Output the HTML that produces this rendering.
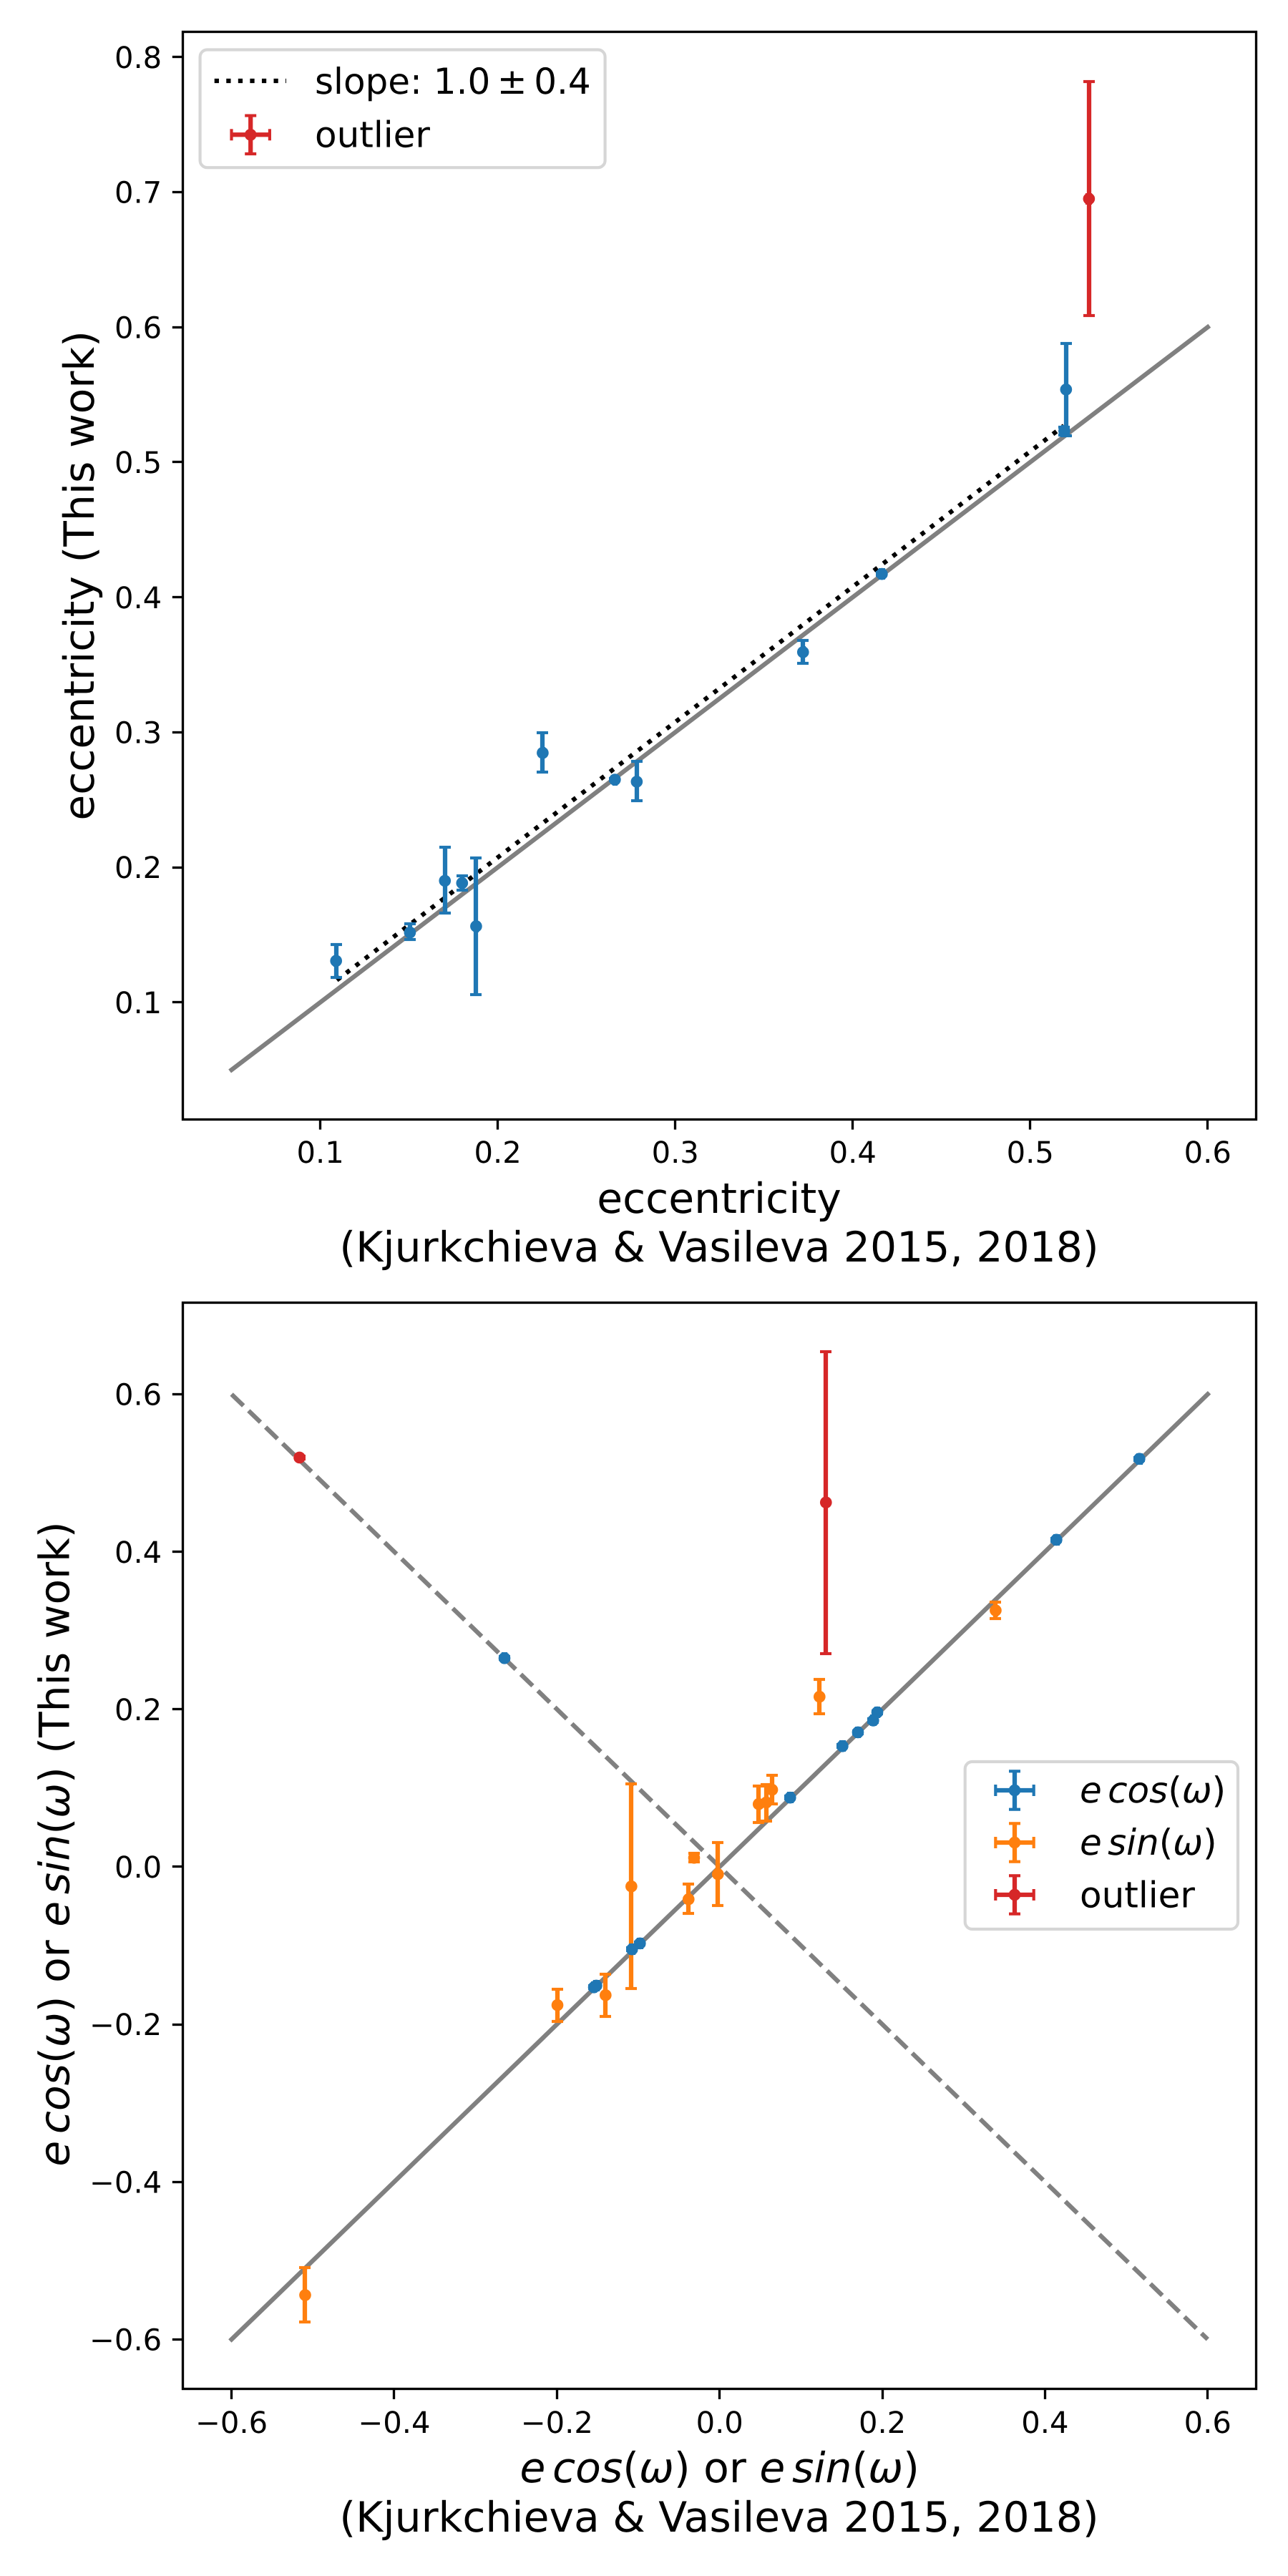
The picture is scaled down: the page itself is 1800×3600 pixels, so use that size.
<!DOCTYPE html>
<html lang="en">
<head>
<meta charset="utf-8">
<title>Eccentricity comparison</title>
<style>
html,body{margin:0;padding:0;background:#fff;}
svg{display:block;text-rendering:geometricPrecision;font-family:"DejaVu Sans","Liberation Sans",sans-serif;fill:#000;}
.tick{font-size:41.67px;}
.lab{font-size:58.33px;}
.leg{font-size:50px;}
.it{font-style:italic;}
</style>
</head>
<body>
<svg id="fig" xmlns="http://www.w3.org/2000/svg" width="1800" height="3600" viewBox="0 0 1800 3600">
  <rect x="0" y="0" width="1800" height="3600" fill="#ffffff"/>
  <g id="top"></g>
  <g id="bottom"></g>

  <text class="lab" x="1005" y="1695" text-anchor="middle">eccentricity</text>
  <text class="lab" x="1005" y="1763" text-anchor="middle">(Kjurkchieva &amp; Vasileva 2015, 2018)</text>
  <text class="lab" text-anchor="middle" transform="translate(131,804.4) rotate(-90)">eccentricity (This work)</text>

  <text class="lab" x="1005.7" y="3469" text-anchor="middle"><tspan class="it">e</tspan><tspan class="it" dx="9.7">cos</tspan>(<tspan class="it">ω</tspan>) or <tspan class="it">e</tspan><tspan class="it" dx="9.7">sin</tspan>(<tspan class="it">ω</tspan>)</text>
  <text class="lab" x="1005" y="3538" text-anchor="middle">(Kjurkchieva &amp; Vasileva 2015, 2018)</text>
  <text class="lab" text-anchor="middle" transform="translate(96.4,2577) rotate(-90)"><tspan class="it">e</tspan><tspan class="it" dx="9.7">cos</tspan>(<tspan class="it">ω</tspan>) or <tspan class="it">e</tspan><tspan class="it" dx="9.7">sin</tspan>(<tspan class="it">ω</tspan>) (This work)</text>
</svg>

<script>
// ---- top panel data ----
const topXTicks = [0.1, 0.2, 0.3, 0.4, 0.5, 0.6];
const topXTickLabels = ['0.1', '0.2', '0.3', '0.4', '0.5', '0.6'];
const topYTicks = [0.1, 0.2, 0.3, 0.4, 0.5, 0.6, 0.7, 0.8];
const topYTickLabels = ['0.1', '0.2', '0.3', '0.4', '0.5', '0.6', '0.7', '0.8'];
const oneToOneTop = [0.05, 0.6];
const fitX = [0.1093, 0.519];
const fitY = [0.1164, 0.527];
const eccLit = [0.1089, 0.1505, 0.1702, 0.1799, 0.1878, 0.2253, 0.2660, 0.2783, 0.3720, 0.4164, 0.5192, 0.5202];
const eccThis = [0.1307, 0.1517, 0.1900, 0.1883, 0.1563, 0.2847, 0.2649, 0.2634, 0.3593, 0.4172, 0.5231, 0.5538];
const eccErrLow = [0.0122, 0.0054, 0.0237, 0.0055, 0.0508, 0.0143, 0.0010, 0.0143, 0.0083, 0.0010, 0.0030, 0.0340];
const eccErrHigh = [0.0122, 0.0063, 0.0250, 0.0054, 0.0508, 0.0152, 0.0010, 0.0149, 0.0087, 0.0010, 0.0030, 0.0340];
const eccErrLit = [0.0005, 0.0005, 0.0005, 0.0005, 0.0005, 0.0005, 0.0005, 0.0005, 0.0005, 0.0010, 0.0010, 0.0005];
const eccOutlierLit = [0.5331];
const eccOutlierThis = [0.6950];
const eccOutlierErrLow = [0.0864];
const eccOutlierErrHigh = [0.0870];
const eccOutlierErrLit = [0.0010];

// ---- bottom panel data ----
const botXTicks = [-0.6, -0.4, -0.2, 0.0, 0.2, 0.4, 0.6];
const botXTickLabels = ['−0.6', '−0.4', '−0.2', '0.0', '0.2', '0.4', '0.6'];
const botYTicks = [-0.6, -0.4, -0.2, 0.0, 0.2, 0.4, 0.6];
const botYTickLabels = ['−0.6', '−0.4', '−0.2', '0.0', '0.2', '0.4', '0.6'];
const oneToOneBot = [-0.6, 0.6];
const cosLit = [0.5160, 0.4140, 0.1938, 0.1888, 0.1700, 0.1510, 0.0867, -0.0980, -0.1077, -0.1516, -0.1545, -0.2645];
const cosThis = [0.5180, 0.4152, 0.1961, 0.1857, 0.1707, 0.1532, 0.0878, -0.0973, -0.1048, -0.1509, -0.1530, 0.2649];
const cosErr = [0.0020, 0.0020, 0.0020, 0.0020, 0.0020, 0.0020, 0.0020, 0.0020, 0.0020, 0.0020, 0.0020, 0.0020];
const sinLit = [0.3393, 0.1228, 0.0645, 0.0574, 0.0480, -0.0021, -0.0314, -0.0382, -0.1085, -0.1402, -0.1994, -0.5095];
const sinThis = [0.3255, 0.2159, 0.0978, 0.0817, 0.0796, -0.0094, 0.0114, -0.0412, -0.0249, -0.1630, -0.1756, -0.5438];
const sinErrLow = [0.0104, 0.0216, 0.0177, 0.0236, 0.0234, 0.0397, 0.0055, 0.0182, 0.1297, 0.0267, 0.0207, 0.0339];
const sinErrHigh = [0.0105, 0.0223, 0.0184, 0.0230, 0.0232, 0.0405, 0.0055, 0.0196, 0.1302, 0.0266, 0.0203, 0.0350];
const sinErrLit = [0.0010, 0.0005, 0.0005, 0.0005, 0.0005, 0.0005, 0.0020, 0.0005, 0.0005, 0.0005, 0.0005, 0.0005];
const outlierLit = [-0.5165, 0.1307];
const outlierThis = [0.5196, 0.4626];
const outlierErrLow = [0.0020, 0.1919];
const outlierErrHigh = [0.0020, 0.1914];

// ---- axes geometry ----
const AX_LEFT = 255.4, AX_RIGHT = 1756;
const TOP_T = 44.8, TOP_B = 1564;
const BOT_T = 1820, BOT_B = 3338.3;
const topXLim = [0.0225, 0.6275], topYLim = [0.0135, 0.8185];
const botXLim = [-0.66, 0.66], botYLim = [-0.6627, 0.7167];

const NS = 'http://www.w3.org/2000/svg';
const BLUE = '#1f77b4', ORANGE = '#ff7f0e', RED = '#d62728', GRAY = '#808080';

function scale(lim, a, b) {
  return function (v) { return a + (v - lim[0]) / (lim[1] - lim[0]) * (b - a); };
}
const xTop = scale(topXLim, AX_LEFT, AX_RIGHT);
const yTop = scale(topYLim, TOP_B, TOP_T);
const xBot = scale(botXLim, AX_LEFT, AX_RIGHT);
const yBot = scale(botYLim, BOT_B, BOT_T);
function snapOdd(v) { return Math.floor(v) + 0.5; }

function line(parent, name, x1, y1, x2, y2, color, width, dash, cap) {
  const el = document.createElementNS(NS, 'line');
  
  
  el.setAttribute('x1', x1);
  el.setAttribute('y1', y1);
  el.setAttribute('x2', x2);
  el.setAttribute('y2', y2);
  el.setAttribute('stroke', color);
  el.setAttribute('stroke-width', width);
  if (dash) el.setAttribute('stroke-dasharray', dash);
  if (cap) el.setAttribute('stroke-linecap', cap);
  parent.appendChild(el);
  return el;
}
function label(parent, name, x, y, anchor, str) {
  const el = document.createElementNS(NS, 'text');
  
  
  el.setAttribute('class', 'tick');
  el.setAttribute('x', x);
  el.setAttribute('y', y);
  el.setAttribute('text-anchor', anchor);
  el.textContent = str;
  parent.appendChild(el);
}
function group(parent, name) {
  const g = document.createElementNS(NS, 'g');
  
  
  parent.appendChild(g);
  return g;
}
function frame(parent, prefix, T, B) {
  const rect = document.createElementNS(NS, 'rect');
  const l = snapOdd(AX_LEFT), r = snapOdd(AX_RIGHT - 0.5), t = snapOdd(T), b = snapOdd(B);
  
  
  rect.setAttribute('x', l);
  rect.setAttribute('y', t);
  rect.setAttribute('width', r - l);
  rect.setAttribute('height', b - t);
  rect.setAttribute('fill', 'none');
  rect.setAttribute('stroke', '#000');
  rect.setAttribute('stroke-width', 3.33);
  parent.appendChild(rect);
}
function axes(parent, prefix, B, xs, ys, xt, xl, yt, yl, baseX) {
  xt.forEach(function (v, i) {
    const px = snapOdd(xs(v));
    line(parent, prefix + '-x-tick', px, B, px, B + 14.6, '#000', 3.33);
    label(parent, prefix + '-x-tick-label', xs(v), baseX, 'middle', xl[i]);
  });
  yt.forEach(function (v, i) {
    const py = snapOdd(ys(v));
    line(parent, prefix + '-y-tick', AX_LEFT, py, AX_LEFT - 14.6, py, '#000', 3.33);
    label(parent, prefix + '-y-tick-label', AX_LEFT - 29.2, ys(v) + 15.2, 'end', yl[i]);
  });
}
function errPoint(parent, name, xs, ys, x, y, xe, lo, hi, color) {
  const g = group(parent, name);
  const px = xs(x), py = ys(y);
  const barX = Math.round(px), barY = Math.round(py);
  const yA = Math.round(ys(y - lo)), yB = Math.round(ys(y + hi));
  const xA = Math.round(xs(x - xe)), xB = Math.round(xs(x + xe));
  line(g, name + '-y-error', barX, yA, barX, yB, color, 6.25);
  line(g, name + '-x-error', xA, barY, xB, barY, color, 6.25);
  line(g, name + '-y-cap-low', barX - 8, yA, barX + 8, yA, color, 4.17);
  line(g, name + '-y-cap-high', barX - 8, yB, barX + 8, yB, color, 4.17);
  line(g, name + '-x-cap-low', xA, barY - 8, xA, barY + 8, color, 4.17);
  line(g, name + '-x-cap-high', xB, barY - 8, xB, barY + 8, color, 4.17);
  const c = document.createElementNS(NS, 'circle');
  
  
  c.setAttribute('cx', px);
  c.setAttribute('cy', py);
  c.setAttribute('r', 8.33);
  c.setAttribute('fill', color);
  g.appendChild(c);
}
function legendBox(parent, name, x, y, w, h) {
  const r = document.createElementNS(NS, 'rect');
  
  
  r.setAttribute('x', x);
  r.setAttribute('y', y);
  r.setAttribute('width', w);
  r.setAttribute('height', h);
  r.setAttribute('rx', 10);
  r.setAttribute('ry', 10);
  r.setAttribute('fill', '#ffffff');
  r.setAttribute('fill-opacity', 0.8);
  r.setAttribute('stroke', '#d6d6d6');
  r.setAttribute('stroke-width', 4.17);
  parent.appendChild(r);
}
function legendKey(parent, name, cx, cy, color) {
  const g = group(parent, name);
  const a = 26.7;
  line(g, name + '-v', cx, cy - a, cx, cy + a, color, 6.25);
  line(g, name + '-h', cx - a, cy, cx + a, cy, color, 6.25);
  line(g, name + '-cap-top', cx - 8, cy - a, cx + 8, cy - a, color, 4.17);
  line(g, name + '-cap-bottom', cx - 8, cy + a, cx + 8, cy + a, color, 4.17);
  line(g, name + '-cap-left', cx - a, cy - 8, cx - a, cy + 8, color, 4.17);
  line(g, name + '-cap-right', cx + a, cy - 8, cx + a, cy + 8, color, 4.17);
  const c = document.createElementNS(NS, 'circle');
  
  
  c.setAttribute('cx', cx);
  c.setAttribute('cy', cy);
  c.setAttribute('r', 8.33);
  c.setAttribute('fill', color);
  g.appendChild(c);
}
function legendText(parent, name, x, y, parts) {
  const t = document.createElementNS(NS, 'text');
  
  
  t.setAttribute('class', 'leg');
  t.setAttribute('x', x);
  t.setAttribute('y', y);
  parts.forEach(function (p) {
    const s = document.createElementNS(NS, 'tspan');
    if (p.it) s.setAttribute('class', 'it');
    if (p.dx) s.setAttribute('dx', p.dx);
    s.textContent = p.t;
    t.appendChild(s);
  });
  parent.appendChild(t);
}

// ---- draw top panel ----
const top_ = document.getElementById('top');
axes(top_, 'top', TOP_B, xTop, yTop, topXTicks, topXTickLabels, topYTicks, topYTickLabels, 1625);
line(top_, 'one-to-one-line', xTop(oneToOneTop[0]), yTop(oneToOneTop[0]), xTop(oneToOneTop[1]), yTop(oneToOneTop[1]), GRAY, 6.25, null, 'square');
line(top_, 'slope-fit-line', xTop(fitX[0]), yTop(fitY[0]), xTop(fitX[1]), yTop(fitY[1]), '#000', 6.25, '6.25 10.31');
eccLit.forEach(function (v, i) {
  errPoint(top_, 'eccentricity-point', xTop, yTop, v, eccThis[i], eccErrLit[i], eccErrLow[i], eccErrHigh[i], BLUE);
});
eccOutlierLit.forEach(function (v, i) {
  errPoint(top_, 'eccentricity-outlier', xTop, yTop, v, eccOutlierThis[i], eccOutlierErrLit[i], eccOutlierErrLow[i], eccOutlierErrHigh[i], RED);
});
frame(top_, 'top', TOP_T, TOP_B);
const legTop = group(top_, 'top-legend');
legendBox(legTop, 'top-legend-frame', 279.6, 69.5, 566, 164.7);
line(legTop, 'legend-slope-key', 299.7, 113, 400, 113, '#000', 6.25, '6.25 10.31');
legendText(legTop, 'legend-slope-label', 440, 131, [{t: 'slope: 1.0'}, {t: '±', dx: 9.5}, {t: '0.4', dx: 9.5}]);
legendKey(legTop, 'legend-outlier-key', 350.2, 188.3, RED);
legendText(legTop, 'legend-outlier-label', 440, 205.5, [{t: 'outlier'}]);

// ---- draw bottom panel ----
const bot_ = document.getElementById('bottom');
axes(bot_, 'bottom', BOT_B, xBot, yBot, botXTicks, botXTickLabels, botYTicks, botYTickLabels, 3400);
line(bot_, 'one-to-one-line', xBot(oneToOneBot[0]), yBot(oneToOneBot[0]), xBot(oneToOneBot[1]), yBot(oneToOneBot[1]), GRAY, 6.25, null, 'square');
line(bot_, 'anti-diagonal-line', xBot(oneToOneBot[0]), yBot(-oneToOneBot[0]), xBot(oneToOneBot[1]), yBot(-oneToOneBot[1]), GRAY, 6.25, '23.1 10');
sinLit.forEach(function (v, i) {
  errPoint(bot_, 'esinw-point', xBot, yBot, v, sinThis[i], sinErrLit[i], sinErrLow[i], sinErrHigh[i], ORANGE);
});
cosLit.forEach(function (v, i) {
  errPoint(bot_, 'ecosw-point', xBot, yBot, v, cosThis[i], cosErr[i], cosErr[i], cosErr[i], BLUE);
});
outlierLit.forEach(function (v, i) {
  errPoint(bot_, 'outlier-point', xBot, yBot, v, outlierThis[i], 0.0005, outlierErrLow[i], outlierErrHigh[i], RED);
});
frame(bot_, 'bottom', BOT_T, BOT_B);
const legBot = group(bot_, 'bottom-legend');
legendBox(legBot, 'bottom-legend-frame', 1348.7, 2462, 381.3, 234);
legendKey(legBot, 'legend-ecosw-key', 1418, 2502, BLUE);
legendText(legBot, 'legend-ecosw-label', 1509, 2519, [{t: 'e', it: true}, {t: 'cos', it: true, dx: 8.3}, {t: '('}, {t: 'ω', it: true}, {t: ')'}]);
legendKey(legBot, 'legend-esinw-key', 1418, 2575, ORANGE);
legendText(legBot, 'legend-esinw-label', 1509, 2592, [{t: 'e', it: true}, {t: 'sin', it: true, dx: 8.3}, {t: '('}, {t: 'ω', it: true}, {t: ')'}]);
legendKey(legBot, 'legend-outlier-key', 1418, 2648, RED);
legendText(legBot, 'legend-outlier-label', 1509, 2665.3, [{t: 'outlier'}]);
</script>
</body>
</html>
